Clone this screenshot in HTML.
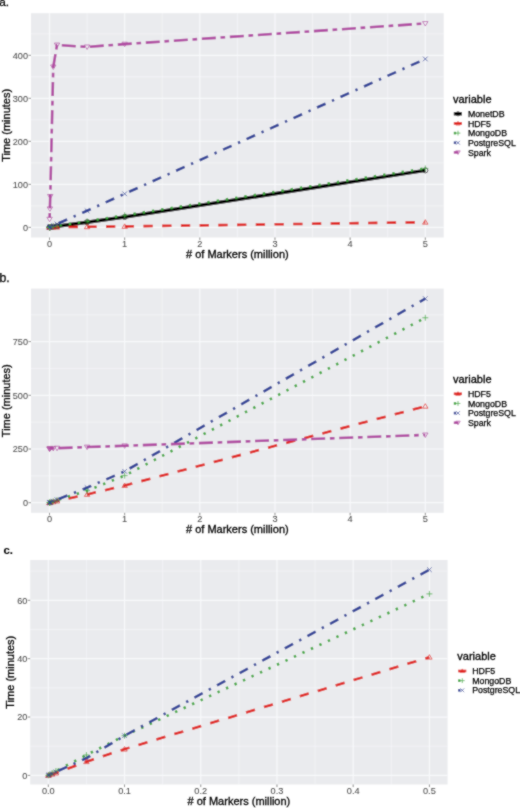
<!DOCTYPE html>
<html><head><meta charset="utf-8"><style>
html,body{margin:0;padding:0;background:#fff;}
body{width:520px;height:808px;overflow:hidden;}
svg{display:block;font-family:"Liberation Sans", sans-serif;}
#w{width:520px;height:808px;}
</style></head><body>
<div id="w"><svg width="520" height="808" viewBox="0 0 520 808">
<defs><filter id="bl" filterUnits="userSpaceOnUse" x="0" y="0" width="520" height="808"><feConvolveMatrix order="3" kernelMatrix="1 2 1 2 12 2 1 2 1" divisor="24" edgeMode="duplicate"/></filter></defs>
<g filter="url(#bl)">
<rect width="520" height="808" fill="#fff"/>
<clipPath id="ca"><rect x="31" y="13.2" width="412.7" height="224.3"/></clipPath>
<rect x="31" y="13.2" width="412.7" height="224.3" fill="#EAEBEE"/>
<line x1="87.08" y1="13.2" x2="87.08" y2="237.5" stroke="#F8F9FB" stroke-width="0.6"/>
<line x1="162.24" y1="13.2" x2="162.24" y2="237.5" stroke="#F8F9FB" stroke-width="0.6"/>
<line x1="237.4" y1="13.2" x2="237.4" y2="237.5" stroke="#F8F9FB" stroke-width="0.6"/>
<line x1="312.56" y1="13.2" x2="312.56" y2="237.5" stroke="#F8F9FB" stroke-width="0.6"/>
<line x1="387.72" y1="13.2" x2="387.72" y2="237.5" stroke="#F8F9FB" stroke-width="0.6"/>
<line x1="31" y1="205.84" x2="443.7" y2="205.84" stroke="#F8F9FB" stroke-width="0.6"/>
<line x1="31" y1="162.83" x2="443.7" y2="162.83" stroke="#F8F9FB" stroke-width="0.6"/>
<line x1="31" y1="119.82" x2="443.7" y2="119.82" stroke="#F8F9FB" stroke-width="0.6"/>
<line x1="31" y1="76.81" x2="443.7" y2="76.81" stroke="#F8F9FB" stroke-width="0.6"/>
<line x1="31" y1="33.79" x2="443.7" y2="33.79" stroke="#F8F9FB" stroke-width="0.6"/>
<line x1="49.5" y1="13.2" x2="49.5" y2="237.5" stroke="#F8F9FB" stroke-width="1.2"/>
<line x1="124.66" y1="13.2" x2="124.66" y2="237.5" stroke="#F8F9FB" stroke-width="1.2"/>
<line x1="199.82" y1="13.2" x2="199.82" y2="237.5" stroke="#F8F9FB" stroke-width="1.2"/>
<line x1="274.98" y1="13.2" x2="274.98" y2="237.5" stroke="#F8F9FB" stroke-width="1.2"/>
<line x1="350.14" y1="13.2" x2="350.14" y2="237.5" stroke="#F8F9FB" stroke-width="1.2"/>
<line x1="425.3" y1="13.2" x2="425.3" y2="237.5" stroke="#F8F9FB" stroke-width="1.2"/>
<line x1="31" y1="227.35" x2="443.7" y2="227.35" stroke="#F8F9FB" stroke-width="1.2"/>
<line x1="31" y1="184.34" x2="443.7" y2="184.34" stroke="#F8F9FB" stroke-width="1.2"/>
<line x1="31" y1="141.32" x2="443.7" y2="141.32" stroke="#F8F9FB" stroke-width="1.2"/>
<line x1="31" y1="98.31" x2="443.7" y2="98.31" stroke="#F8F9FB" stroke-width="1.2"/>
<line x1="31" y1="55.3" x2="443.7" y2="55.3" stroke="#F8F9FB" stroke-width="1.2"/>
<line x1="28.4" y1="227.35" x2="31" y2="227.35" stroke="#333333" stroke-width="0.6"/>
<line x1="28.4" y1="184.34" x2="31" y2="184.34" stroke="#333333" stroke-width="0.6"/>
<line x1="28.4" y1="141.32" x2="31" y2="141.32" stroke="#333333" stroke-width="0.6"/>
<line x1="28.4" y1="98.31" x2="31" y2="98.31" stroke="#333333" stroke-width="0.6"/>
<line x1="28.4" y1="55.3" x2="31" y2="55.3" stroke="#333333" stroke-width="0.6"/>
<line x1="49.5" y1="237.5" x2="49.5" y2="240.1" stroke="#333333" stroke-width="0.6"/>
<line x1="124.66" y1="237.5" x2="124.66" y2="240.1" stroke="#333333" stroke-width="0.6"/>
<line x1="199.82" y1="237.5" x2="199.82" y2="240.1" stroke="#333333" stroke-width="0.6"/>
<line x1="274.98" y1="237.5" x2="274.98" y2="240.1" stroke="#333333" stroke-width="0.6"/>
<line x1="350.14" y1="237.5" x2="350.14" y2="240.1" stroke="#333333" stroke-width="0.6"/>
<line x1="425.3" y1="237.5" x2="425.3" y2="240.1" stroke="#333333" stroke-width="0.6"/>
<g clip-path="url(#ca)">
<path d="M49.5 227.35 L49.58 227.31 L49.88 227.22 L50.25 227.18 L53.26 226.7 L57.02 226.15 L87.08 222.19 L124.66 217.03 L425.3 170.36" fill="none" stroke="#000000" stroke-width="3.5" stroke-linejoin="round"/>
<path d="M49.5 227.35 L49.58 227.35 L49.88 227.31 L50.25 227.31 L53.26 227.22 L57.02 227.18 L87.08 226.79 L124.66 226.4 L425.3 222.23" fill="none" stroke="#E0221E" stroke-width="2.6" stroke-dasharray="9.36,9.36" stroke-dashoffset="18.38" stroke-linejoin="round"/>
<path d="M49.5 227.35 L49.58 227.31 L49.88 227.22 L50.25 227.13 L53.26 226.58 L57.02 225.97 L87.08 221.24 L124.66 215.31 L425.3 168.42" fill="none" stroke="#38A536" stroke-width="2.6" stroke-dasharray="2.34,7.02" stroke-dashoffset="8.6" stroke-linejoin="round"/>
<path d="M49.5 227.35 L49.58 227.31 L49.88 227.13 L50.25 226.96 L53.26 225.63 L57.02 223.91 L87.08 210.79 L124.66 193.8 L425.3 58.96" fill="none" stroke="#2A3E96" stroke-width="2.6" stroke-dasharray="2.34,7.02,9.36,7.02" stroke-dashoffset="25.12" stroke-linejoin="round"/>
<path d="M49.58 219.18 L49.88 208.85 L50.25 196.38 L53.26 66.91 L57.02 44.98 L87.08 46.91 L124.66 44.12 L425.3 23.47" fill="none" stroke="#B04AA2" stroke-width="2.6" stroke-dasharray="4.68,4.68,14.04,4.68" stroke-dashoffset="26.61" stroke-linejoin="round"/>
<circle cx="49.5" cy="227.35" r="2.56" fill="none" stroke="#000000" stroke-width="0.7"/>
<circle cx="49.58" cy="227.31" r="2.56" fill="none" stroke="#000000" stroke-width="0.7"/>
<circle cx="49.88" cy="227.22" r="2.56" fill="none" stroke="#000000" stroke-width="0.7"/>
<circle cx="50.25" cy="227.18" r="2.56" fill="none" stroke="#000000" stroke-width="0.7"/>
<circle cx="53.26" cy="226.7" r="2.56" fill="none" stroke="#000000" stroke-width="0.7"/>
<circle cx="57.02" cy="226.15" r="2.56" fill="none" stroke="#000000" stroke-width="0.7"/>
<circle cx="87.08" cy="222.19" r="2.56" fill="none" stroke="#000000" stroke-width="0.7"/>
<circle cx="124.66" cy="217.03" r="2.56" fill="none" stroke="#000000" stroke-width="0.7"/>
<circle cx="425.3" cy="170.36" r="2.56" fill="none" stroke="#000000" stroke-width="0.7"/>
<polygon points="49.5,224.78 46.8,229.27 52.2,229.27" fill="none" stroke="#E0221E" stroke-width="0.7"/>
<polygon points="49.58,224.78 46.88,229.27 52.28,229.27" fill="none" stroke="#E0221E" stroke-width="0.7"/>
<polygon points="49.88,224.74 47.18,229.23 52.58,229.23" fill="none" stroke="#E0221E" stroke-width="0.7"/>
<polygon points="50.25,224.74 47.55,229.23 52.95,229.23" fill="none" stroke="#E0221E" stroke-width="0.7"/>
<polygon points="53.26,224.66 50.56,229.14 55.96,229.14" fill="none" stroke="#E0221E" stroke-width="0.7"/>
<polygon points="57.02,224.61 54.32,229.1 59.72,229.1" fill="none" stroke="#E0221E" stroke-width="0.7"/>
<polygon points="87.08,224.23 84.38,228.71 89.78,228.71" fill="none" stroke="#E0221E" stroke-width="0.7"/>
<polygon points="124.66,223.84 121.96,228.33 127.36,228.33" fill="none" stroke="#E0221E" stroke-width="0.7"/>
<polygon points="425.3,219.67 422.6,224.16 428,224.16" fill="none" stroke="#E0221E" stroke-width="0.7"/>
<path d="M46.53 227.35h5.94M49.5 224.38v5.94" stroke="#38A536" stroke-width="0.7" fill="none"/>
<path d="M46.61 227.31h5.94M49.58 224.34v5.94" stroke="#38A536" stroke-width="0.7" fill="none"/>
<path d="M46.91 227.22h5.94M49.88 224.25v5.94" stroke="#38A536" stroke-width="0.7" fill="none"/>
<path d="M47.28 227.13h5.94M50.25 224.16v5.94" stroke="#38A536" stroke-width="0.7" fill="none"/>
<path d="M50.29 226.58h5.94M53.26 223.61v5.94" stroke="#38A536" stroke-width="0.7" fill="none"/>
<path d="M54.05 225.97h5.94M57.02 223v5.94" stroke="#38A536" stroke-width="0.7" fill="none"/>
<path d="M84.11 221.24h5.94M87.08 218.27v5.94" stroke="#38A536" stroke-width="0.7" fill="none"/>
<path d="M121.69 215.31h5.94M124.66 212.34v5.94" stroke="#38A536" stroke-width="0.7" fill="none"/>
<path d="M422.33 168.42h5.94M425.3 165.45v5.94" stroke="#38A536" stroke-width="0.7" fill="none"/>
<path d="M47.2 225.06L51.8 229.64M47.2 229.64L51.8 225.06" stroke="#2A3E96" stroke-width="0.7" fill="none"/>
<path d="M47.28 225.01L51.87 229.6M47.28 229.6L51.87 225.01" stroke="#2A3E96" stroke-width="0.7" fill="none"/>
<path d="M47.58 224.84L52.17 229.43M47.58 229.43L52.17 224.84" stroke="#2A3E96" stroke-width="0.7" fill="none"/>
<path d="M47.96 224.67L52.55 229.26M47.96 229.26L52.55 224.67" stroke="#2A3E96" stroke-width="0.7" fill="none"/>
<path d="M50.96 223.33L55.55 227.92M50.96 227.92L55.55 223.33" stroke="#2A3E96" stroke-width="0.7" fill="none"/>
<path d="M54.72 221.61L59.31 226.2M54.72 226.2L59.31 221.61" stroke="#2A3E96" stroke-width="0.7" fill="none"/>
<path d="M84.78 208.5L89.38 213.09M84.78 213.09L89.38 208.5" stroke="#2A3E96" stroke-width="0.7" fill="none"/>
<path d="M122.36 191.51L126.95 196.1M122.36 196.1L126.95 191.51" stroke="#2A3E96" stroke-width="0.7" fill="none"/>
<path d="M423 56.66L427.6 61.25M423 61.25L427.6 56.66" stroke="#2A3E96" stroke-width="0.7" fill="none"/>
<polygon points="49.58,221.74 46.88,217.25 52.28,217.25" fill="none" stroke="#B04AA2" stroke-width="0.7"/>
<polygon points="49.88,211.42 47.18,206.93 52.58,206.93" fill="none" stroke="#B04AA2" stroke-width="0.7"/>
<polygon points="50.25,198.95 47.55,194.46 52.95,194.46" fill="none" stroke="#B04AA2" stroke-width="0.7"/>
<polygon points="53.26,69.48 50.56,64.99 55.96,64.99" fill="none" stroke="#B04AA2" stroke-width="0.7"/>
<polygon points="57.02,47.54 54.32,43.05 59.72,43.05" fill="none" stroke="#B04AA2" stroke-width="0.7"/>
<polygon points="87.08,49.48 84.38,44.99 89.78,44.99" fill="none" stroke="#B04AA2" stroke-width="0.7"/>
<polygon points="124.66,46.68 121.96,42.19 127.36,42.19" fill="none" stroke="#B04AA2" stroke-width="0.7"/>
<polygon points="425.3,26.04 422.6,21.55 428,21.55" fill="none" stroke="#B04AA2" stroke-width="0.7"/>
</g>
<line x1="453.8" y1="113.8" x2="462" y2="113.8" stroke="#000000" stroke-width="3.3"/>
<circle cx="458" cy="113.8" r="2.09" fill="none" stroke="#000000" stroke-width="0.7"/>
<line x1="453.8" y1="123.45" x2="462" y2="123.45" stroke="#E0221E" stroke-width="2.6" stroke-dasharray="9.36,9.36"/>
<polygon points="458,121.36 455.8,125.02 460.2,125.02" fill="none" stroke="#E0221E" stroke-width="0.7"/>
<line x1="453.8" y1="133.1" x2="462" y2="133.1" stroke="#38A536" stroke-width="2.6" stroke-dasharray="2.34,7.02"/>
<path d="M455.58 133.1h4.84M458 130.68v4.84" stroke="#38A536" stroke-width="0.7" fill="none"/>
<line x1="453.8" y1="142.75" x2="462" y2="142.75" stroke="#2A3E96" stroke-width="2.6" stroke-dasharray="2.34,7.02,9.36,7.02"/>
<path d="M456.13 140.88L459.87 144.62M456.13 144.62L459.87 140.88" stroke="#2A3E96" stroke-width="0.7" fill="none"/>
<line x1="453.8" y1="152.4" x2="462" y2="152.4" stroke="#B04AA2" stroke-width="2.6" stroke-dasharray="4.68,4.68,14.04,4.68"/>
<polygon points="458,154.49 455.8,150.83 460.2,150.83" fill="none" stroke="#B04AA2" stroke-width="0.7"/>
<clipPath id="cb"><rect x="31" y="288.6" width="412.7" height="224.2"/></clipPath>
<rect x="31" y="288.6" width="412.7" height="224.2" fill="#EAEBEE"/>
<line x1="87.08" y1="288.6" x2="87.08" y2="512.8" stroke="#F8F9FB" stroke-width="0.6"/>
<line x1="162.24" y1="288.6" x2="162.24" y2="512.8" stroke="#F8F9FB" stroke-width="0.6"/>
<line x1="237.4" y1="288.6" x2="237.4" y2="512.8" stroke="#F8F9FB" stroke-width="0.6"/>
<line x1="312.56" y1="288.6" x2="312.56" y2="512.8" stroke="#F8F9FB" stroke-width="0.6"/>
<line x1="387.72" y1="288.6" x2="387.72" y2="512.8" stroke="#F8F9FB" stroke-width="0.6"/>
<line x1="31" y1="475.85" x2="443.7" y2="475.85" stroke="#F8F9FB" stroke-width="0.6"/>
<line x1="31" y1="422.15" x2="443.7" y2="422.15" stroke="#F8F9FB" stroke-width="0.6"/>
<line x1="31" y1="368.45" x2="443.7" y2="368.45" stroke="#F8F9FB" stroke-width="0.6"/>
<line x1="31" y1="314.75" x2="443.7" y2="314.75" stroke="#F8F9FB" stroke-width="0.6"/>
<line x1="49.5" y1="288.6" x2="49.5" y2="512.8" stroke="#F8F9FB" stroke-width="1.2"/>
<line x1="124.66" y1="288.6" x2="124.66" y2="512.8" stroke="#F8F9FB" stroke-width="1.2"/>
<line x1="199.82" y1="288.6" x2="199.82" y2="512.8" stroke="#F8F9FB" stroke-width="1.2"/>
<line x1="274.98" y1="288.6" x2="274.98" y2="512.8" stroke="#F8F9FB" stroke-width="1.2"/>
<line x1="350.14" y1="288.6" x2="350.14" y2="512.8" stroke="#F8F9FB" stroke-width="1.2"/>
<line x1="425.3" y1="288.6" x2="425.3" y2="512.8" stroke="#F8F9FB" stroke-width="1.2"/>
<line x1="31" y1="502.7" x2="443.7" y2="502.7" stroke="#F8F9FB" stroke-width="1.2"/>
<line x1="31" y1="449" x2="443.7" y2="449" stroke="#F8F9FB" stroke-width="1.2"/>
<line x1="31" y1="395.3" x2="443.7" y2="395.3" stroke="#F8F9FB" stroke-width="1.2"/>
<line x1="31" y1="341.6" x2="443.7" y2="341.6" stroke="#F8F9FB" stroke-width="1.2"/>
<line x1="28.4" y1="502.7" x2="31" y2="502.7" stroke="#333333" stroke-width="0.6"/>
<line x1="28.4" y1="449" x2="31" y2="449" stroke="#333333" stroke-width="0.6"/>
<line x1="28.4" y1="395.3" x2="31" y2="395.3" stroke="#333333" stroke-width="0.6"/>
<line x1="28.4" y1="341.6" x2="31" y2="341.6" stroke="#333333" stroke-width="0.6"/>
<line x1="49.5" y1="512.8" x2="49.5" y2="515.4" stroke="#333333" stroke-width="0.6"/>
<line x1="124.66" y1="512.8" x2="124.66" y2="515.4" stroke="#333333" stroke-width="0.6"/>
<line x1="199.82" y1="512.8" x2="199.82" y2="515.4" stroke="#333333" stroke-width="0.6"/>
<line x1="274.98" y1="512.8" x2="274.98" y2="515.4" stroke="#333333" stroke-width="0.6"/>
<line x1="350.14" y1="512.8" x2="350.14" y2="515.4" stroke="#333333" stroke-width="0.6"/>
<line x1="425.3" y1="512.8" x2="425.3" y2="515.4" stroke="#333333" stroke-width="0.6"/>
<g clip-path="url(#cb)">
<path d="M49.5 502.7 L49.58 502.66 L49.88 502.57 L50.25 502.49 L53.26 501.84 L57.02 500.98 L87.08 494.43 L124.66 485.52 L425.3 406.25" fill="none" stroke="#E0221E" stroke-width="2.6" stroke-dasharray="9.36,9.36" stroke-dashoffset="17.99" stroke-linejoin="round"/>
<path d="M49.5 502.7 L49.58 502.66 L49.88 502.53 L50.25 502.38 L53.26 501.41 L57.02 500.12 L87.08 490.67 L124.66 475.64 L425.3 317.76" fill="none" stroke="#38A536" stroke-width="2.6" stroke-dasharray="2.34,7.02" stroke-dashoffset="8.77" stroke-linejoin="round"/>
<path d="M49.5 502.7 L49.58 502.66 L49.88 502.53 L50.25 502.38 L53.26 501.2 L57.02 499.69 L87.08 487.66 L124.66 471.34 L425.3 298.64" fill="none" stroke="#2A3E96" stroke-width="2.6" stroke-dasharray="2.34,7.02,9.36,7.02" stroke-dashoffset="25.17" stroke-linejoin="round"/>
<path d="M49.5 449 L49.58 448.79 L49.88 448.57 L50.25 448.36 L53.26 448.36 L57.02 448.14 L87.08 447.07 L124.66 445.78 L425.3 434.93" fill="none" stroke="#B04AA2" stroke-width="2.6" stroke-dasharray="4.68,4.68,14.04,4.68" stroke-dashoffset="28.06" stroke-linejoin="round"/>
<polygon points="49.5,500.13 46.8,504.62 52.2,504.62" fill="none" stroke="#E0221E" stroke-width="0.7"/>
<polygon points="49.58,500.09 46.88,504.58 52.28,504.58" fill="none" stroke="#E0221E" stroke-width="0.7"/>
<polygon points="49.88,500.01 47.18,504.49 52.58,504.49" fill="none" stroke="#E0221E" stroke-width="0.7"/>
<polygon points="50.25,499.92 47.55,504.41 52.95,504.41" fill="none" stroke="#E0221E" stroke-width="0.7"/>
<polygon points="53.26,499.28 50.56,503.76 55.96,503.76" fill="none" stroke="#E0221E" stroke-width="0.7"/>
<polygon points="57.02,498.42 54.32,502.91 59.72,502.91" fill="none" stroke="#E0221E" stroke-width="0.7"/>
<polygon points="87.08,491.87 84.38,496.35 89.78,496.35" fill="none" stroke="#E0221E" stroke-width="0.7"/>
<polygon points="124.66,482.95 121.96,487.44 127.36,487.44" fill="none" stroke="#E0221E" stroke-width="0.7"/>
<polygon points="425.3,403.69 422.6,408.18 428,408.18" fill="none" stroke="#E0221E" stroke-width="0.7"/>
<path d="M46.53 502.7h5.94M49.5 499.73v5.94" stroke="#38A536" stroke-width="0.7" fill="none"/>
<path d="M46.61 502.66h5.94M49.58 499.69v5.94" stroke="#38A536" stroke-width="0.7" fill="none"/>
<path d="M46.91 502.53h5.94M49.88 499.56v5.94" stroke="#38A536" stroke-width="0.7" fill="none"/>
<path d="M47.28 502.38h5.94M50.25 499.41v5.94" stroke="#38A536" stroke-width="0.7" fill="none"/>
<path d="M50.29 501.41h5.94M53.26 498.44v5.94" stroke="#38A536" stroke-width="0.7" fill="none"/>
<path d="M54.05 500.12h5.94M57.02 497.15v5.94" stroke="#38A536" stroke-width="0.7" fill="none"/>
<path d="M84.11 490.67h5.94M87.08 487.7v5.94" stroke="#38A536" stroke-width="0.7" fill="none"/>
<path d="M121.69 475.64h5.94M124.66 472.67v5.94" stroke="#38A536" stroke-width="0.7" fill="none"/>
<path d="M422.33 317.76h5.94M425.3 314.79v5.94" stroke="#38A536" stroke-width="0.7" fill="none"/>
<path d="M47.2 500.4L51.8 505M47.2 505L51.8 500.4" stroke="#2A3E96" stroke-width="0.7" fill="none"/>
<path d="M47.28 500.36L51.87 504.95M47.28 504.95L51.87 500.36" stroke="#2A3E96" stroke-width="0.7" fill="none"/>
<path d="M47.58 500.23L52.17 504.82M47.58 504.82L52.17 500.23" stroke="#2A3E96" stroke-width="0.7" fill="none"/>
<path d="M47.96 500.08L52.55 504.67M47.96 504.67L52.55 500.08" stroke="#2A3E96" stroke-width="0.7" fill="none"/>
<path d="M50.96 498.9L55.55 503.49M50.96 503.49L55.55 498.9" stroke="#2A3E96" stroke-width="0.7" fill="none"/>
<path d="M54.72 497.4L59.31 501.99M54.72 501.99L59.31 497.4" stroke="#2A3E96" stroke-width="0.7" fill="none"/>
<path d="M84.78 485.37L89.38 489.96M84.78 489.96L89.38 485.37" stroke="#2A3E96" stroke-width="0.7" fill="none"/>
<path d="M122.36 469.04L126.95 473.63M122.36 473.63L126.95 469.04" stroke="#2A3E96" stroke-width="0.7" fill="none"/>
<path d="M423 296.34L427.6 300.94M423 300.94L427.6 296.34" stroke="#2A3E96" stroke-width="0.7" fill="none"/>
<polygon points="49.5,451.56 46.8,447.08 52.2,447.08" fill="none" stroke="#B04AA2" stroke-width="0.7"/>
<polygon points="49.58,451.35 46.88,446.86 52.28,446.86" fill="none" stroke="#B04AA2" stroke-width="0.7"/>
<polygon points="49.88,451.14 47.18,446.65 52.58,446.65" fill="none" stroke="#B04AA2" stroke-width="0.7"/>
<polygon points="50.25,450.92 47.55,446.43 52.95,446.43" fill="none" stroke="#B04AA2" stroke-width="0.7"/>
<polygon points="53.26,450.92 50.56,446.43 55.96,446.43" fill="none" stroke="#B04AA2" stroke-width="0.7"/>
<polygon points="57.02,450.71 54.32,446.22 59.72,446.22" fill="none" stroke="#B04AA2" stroke-width="0.7"/>
<polygon points="87.08,449.63 84.38,445.14 89.78,445.14" fill="none" stroke="#B04AA2" stroke-width="0.7"/>
<polygon points="124.66,448.34 121.96,443.85 127.36,443.85" fill="none" stroke="#B04AA2" stroke-width="0.7"/>
<polygon points="425.3,437.5 422.6,433.01 428,433.01" fill="none" stroke="#B04AA2" stroke-width="0.7"/>
</g>
<line x1="453.8" y1="393.8" x2="462" y2="393.8" stroke="#E0221E" stroke-width="2.6" stroke-dasharray="9.36,9.36"/>
<polygon points="458,391.71 455.8,395.37 460.2,395.37" fill="none" stroke="#E0221E" stroke-width="0.7"/>
<line x1="453.8" y1="403.45" x2="462" y2="403.45" stroke="#38A536" stroke-width="2.6" stroke-dasharray="2.34,7.02"/>
<path d="M455.58 403.45h4.84M458 401.03v4.84" stroke="#38A536" stroke-width="0.7" fill="none"/>
<line x1="453.8" y1="413.1" x2="462" y2="413.1" stroke="#2A3E96" stroke-width="2.6" stroke-dasharray="2.34,7.02,9.36,7.02"/>
<path d="M456.13 411.23L459.87 414.97M456.13 414.97L459.87 411.23" stroke="#2A3E96" stroke-width="0.7" fill="none"/>
<line x1="453.8" y1="422.75" x2="462" y2="422.75" stroke="#B04AA2" stroke-width="2.6" stroke-dasharray="4.68,4.68,14.04,4.68"/>
<polygon points="458,424.84 455.8,421.18 460.2,421.18" fill="none" stroke="#B04AA2" stroke-width="0.7"/>
<clipPath id="cc"><rect x="30.2" y="560" width="417.4" height="224.5"/></clipPath>
<rect x="30.2" y="560" width="417.4" height="224.5" fill="#EAEBEE"/>
<line x1="86.41" y1="560" x2="86.41" y2="784.5" stroke="#F8F9FB" stroke-width="0.6"/>
<line x1="162.63" y1="560" x2="162.63" y2="784.5" stroke="#F8F9FB" stroke-width="0.6"/>
<line x1="238.85" y1="560" x2="238.85" y2="784.5" stroke="#F8F9FB" stroke-width="0.6"/>
<line x1="315.07" y1="560" x2="315.07" y2="784.5" stroke="#F8F9FB" stroke-width="0.6"/>
<line x1="391.29" y1="560" x2="391.29" y2="784.5" stroke="#F8F9FB" stroke-width="0.6"/>
<line x1="30.2" y1="746.22" x2="447.6" y2="746.22" stroke="#F8F9FB" stroke-width="0.6"/>
<line x1="30.2" y1="687.85" x2="447.6" y2="687.85" stroke="#F8F9FB" stroke-width="0.6"/>
<line x1="30.2" y1="629.48" x2="447.6" y2="629.48" stroke="#F8F9FB" stroke-width="0.6"/>
<line x1="30.2" y1="571.12" x2="447.6" y2="571.12" stroke="#F8F9FB" stroke-width="0.6"/>
<line x1="48.3" y1="560" x2="48.3" y2="784.5" stroke="#F8F9FB" stroke-width="1.2"/>
<line x1="124.52" y1="560" x2="124.52" y2="784.5" stroke="#F8F9FB" stroke-width="1.2"/>
<line x1="200.74" y1="560" x2="200.74" y2="784.5" stroke="#F8F9FB" stroke-width="1.2"/>
<line x1="276.96" y1="560" x2="276.96" y2="784.5" stroke="#F8F9FB" stroke-width="1.2"/>
<line x1="353.18" y1="560" x2="353.18" y2="784.5" stroke="#F8F9FB" stroke-width="1.2"/>
<line x1="429.4" y1="560" x2="429.4" y2="784.5" stroke="#F8F9FB" stroke-width="1.2"/>
<line x1="30.2" y1="775.4" x2="447.6" y2="775.4" stroke="#F8F9FB" stroke-width="1.2"/>
<line x1="30.2" y1="717.03" x2="447.6" y2="717.03" stroke="#F8F9FB" stroke-width="1.2"/>
<line x1="30.2" y1="658.67" x2="447.6" y2="658.67" stroke="#F8F9FB" stroke-width="1.2"/>
<line x1="30.2" y1="600.3" x2="447.6" y2="600.3" stroke="#F8F9FB" stroke-width="1.2"/>
<line x1="27.6" y1="775.4" x2="30.2" y2="775.4" stroke="#333333" stroke-width="0.6"/>
<line x1="27.6" y1="717.03" x2="30.2" y2="717.03" stroke="#333333" stroke-width="0.6"/>
<line x1="27.6" y1="658.67" x2="30.2" y2="658.67" stroke="#333333" stroke-width="0.6"/>
<line x1="27.6" y1="600.3" x2="30.2" y2="600.3" stroke="#333333" stroke-width="0.6"/>
<line x1="48.3" y1="784.5" x2="48.3" y2="787.1" stroke="#333333" stroke-width="0.6"/>
<line x1="124.52" y1="784.5" x2="124.52" y2="787.1" stroke="#333333" stroke-width="0.6"/>
<line x1="200.74" y1="784.5" x2="200.74" y2="787.1" stroke="#333333" stroke-width="0.6"/>
<line x1="276.96" y1="784.5" x2="276.96" y2="787.1" stroke="#333333" stroke-width="0.6"/>
<line x1="353.18" y1="784.5" x2="353.18" y2="787.1" stroke="#333333" stroke-width="0.6"/>
<line x1="429.4" y1="784.5" x2="429.4" y2="787.1" stroke="#333333" stroke-width="0.6"/>
<g clip-path="url(#cc)">
<path d="M48.3 775.4 L49.06 775.11 L52.11 774.23 L55.92 773.07 L86.41 761.68 L124.52 749.13 L429.4 657.21" fill="none" stroke="#E0221E" stroke-width="2.6" stroke-dasharray="9.36,9.36" stroke-dashoffset="17.1" stroke-linejoin="round"/>
<path d="M48.3 775.4 L49.06 774.82 L52.11 773.07 L55.92 771.02 L86.41 754.97 L124.52 735.71 L429.4 593.88" fill="none" stroke="#38A536" stroke-width="2.6" stroke-dasharray="2.34,7.02" stroke-dashoffset="7.98" stroke-linejoin="round"/>
<path d="M48.3 775.4 L49.06 774.82 L52.11 773.65 L55.92 771.9 L86.41 758.18 L124.52 735.71 L429.4 569.66" fill="none" stroke="#2A3E96" stroke-width="2.6" stroke-dasharray="2.34,7.02,9.36,7.02" stroke-dashoffset="23.87" stroke-linejoin="round"/>
<polygon points="48.3,772.83 45.6,777.32 51,777.32" fill="none" stroke="#E0221E" stroke-width="0.7"/>
<polygon points="49.06,772.54 46.36,777.03 51.76,777.03" fill="none" stroke="#E0221E" stroke-width="0.7"/>
<polygon points="52.11,771.67 49.41,776.16 54.81,776.16" fill="none" stroke="#E0221E" stroke-width="0.7"/>
<polygon points="55.92,770.5 53.22,774.99 58.62,774.99" fill="none" stroke="#E0221E" stroke-width="0.7"/>
<polygon points="86.41,759.12 83.71,763.61 89.11,763.61" fill="none" stroke="#E0221E" stroke-width="0.7"/>
<polygon points="124.52,746.57 121.82,751.06 127.22,751.06" fill="none" stroke="#E0221E" stroke-width="0.7"/>
<polygon points="429.4,654.64 426.7,659.13 432.1,659.13" fill="none" stroke="#E0221E" stroke-width="0.7"/>
<path d="M45.33 775.4h5.94M48.3 772.43v5.94" stroke="#38A536" stroke-width="0.7" fill="none"/>
<path d="M46.09 774.82h5.94M49.06 771.85v5.94" stroke="#38A536" stroke-width="0.7" fill="none"/>
<path d="M49.14 773.07h5.94M52.11 770.1v5.94" stroke="#38A536" stroke-width="0.7" fill="none"/>
<path d="M52.95 771.02h5.94M55.92 768.05v5.94" stroke="#38A536" stroke-width="0.7" fill="none"/>
<path d="M83.44 754.97h5.94M86.41 752v5.94" stroke="#38A536" stroke-width="0.7" fill="none"/>
<path d="M121.55 735.71h5.94M124.52 732.74v5.94" stroke="#38A536" stroke-width="0.7" fill="none"/>
<path d="M426.43 593.88h5.94M429.4 590.91v5.94" stroke="#38A536" stroke-width="0.7" fill="none"/>
<path d="M46 773.11L50.59 777.69M46 777.69L50.59 773.11" stroke="#2A3E96" stroke-width="0.7" fill="none"/>
<path d="M46.77 772.52L51.36 777.11M46.77 777.11L51.36 772.52" stroke="#2A3E96" stroke-width="0.7" fill="none"/>
<path d="M49.82 771.35L54.41 775.94M49.82 775.94L54.41 771.35" stroke="#2A3E96" stroke-width="0.7" fill="none"/>
<path d="M53.63 769.6L58.22 774.19M53.63 774.19L58.22 769.6" stroke="#2A3E96" stroke-width="0.7" fill="none"/>
<path d="M84.11 755.89L88.7 760.48M84.11 760.48L88.7 755.89" stroke="#2A3E96" stroke-width="0.7" fill="none"/>
<path d="M122.22 733.42L126.81 738.01M122.22 738.01L126.81 733.42" stroke="#2A3E96" stroke-width="0.7" fill="none"/>
<path d="M427.1 567.36L431.69 571.95M427.1 571.95L431.69 567.36" stroke="#2A3E96" stroke-width="0.7" fill="none"/>
</g>
<line x1="458.1" y1="671" x2="466.3" y2="671" stroke="#E0221E" stroke-width="2.6" stroke-dasharray="9.36,9.36"/>
<polygon points="462.3,668.91 460.1,672.57 464.5,672.57" fill="none" stroke="#E0221E" stroke-width="0.7"/>
<line x1="458.1" y1="680.65" x2="466.3" y2="680.65" stroke="#38A536" stroke-width="2.6" stroke-dasharray="2.34,7.02"/>
<path d="M459.88 680.65h4.84M462.3 678.23v4.84" stroke="#38A536" stroke-width="0.7" fill="none"/>
<line x1="458.1" y1="690.3" x2="466.3" y2="690.3" stroke="#2A3E96" stroke-width="2.6" stroke-dasharray="2.34,7.02,9.36,7.02"/>
<path d="M460.43 688.43L464.17 692.17M460.43 692.17L464.17 688.43" stroke="#2A3E96" stroke-width="0.7" fill="none"/>
</g>
<g filter="url(#bl)"><text x="28" y="230.6" font-size="9.1" fill="#4D4D4D" text-anchor="end" font-weight="normal" stroke="#4D4D4D" stroke-width="0.08">0</text>
<text x="28" y="187.59" font-size="9.1" fill="#4D4D4D" text-anchor="end" font-weight="normal" stroke="#4D4D4D" stroke-width="0.08">100</text>
<text x="28" y="144.57" font-size="9.1" fill="#4D4D4D" text-anchor="end" font-weight="normal" stroke="#4D4D4D" stroke-width="0.08">200</text>
<text x="28" y="101.56" font-size="9.1" fill="#4D4D4D" text-anchor="end" font-weight="normal" stroke="#4D4D4D" stroke-width="0.08">300</text>
<text x="28" y="58.55" font-size="9.1" fill="#4D4D4D" text-anchor="end" font-weight="normal" stroke="#4D4D4D" stroke-width="0.08">400</text>
<text x="49.5" y="247.1" font-size="9.2" fill="#4D4D4D" text-anchor="middle" font-weight="normal" stroke="#4D4D4D" stroke-width="0.08">0</text>
<text x="124.66" y="247.1" font-size="9.2" fill="#4D4D4D" text-anchor="middle" font-weight="normal" stroke="#4D4D4D" stroke-width="0.08">1</text>
<text x="199.82" y="247.1" font-size="9.2" fill="#4D4D4D" text-anchor="middle" font-weight="normal" stroke="#4D4D4D" stroke-width="0.08">2</text>
<text x="274.98" y="247.1" font-size="9.2" fill="#4D4D4D" text-anchor="middle" font-weight="normal" stroke="#4D4D4D" stroke-width="0.08">3</text>
<text x="350.14" y="247.1" font-size="9.2" fill="#4D4D4D" text-anchor="middle" font-weight="normal" stroke="#4D4D4D" stroke-width="0.08">4</text>
<text x="425.3" y="247.1" font-size="9.2" fill="#4D4D4D" text-anchor="middle" font-weight="normal" stroke="#4D4D4D" stroke-width="0.08">5</text>
<text x="237.35" y="257.7" font-size="11" fill="#000" text-anchor="middle" font-weight="normal" stroke="#000" stroke-width="0.3"># of Markers (million)</text>
<text x="10" y="125.35" font-size="11" fill="#000" text-anchor="middle" font-weight="normal" transform="rotate(-90 10 125.35)" stroke="#000" stroke-width="0.3">Time (minutes)</text>
<text x="453" y="103" font-size="11" fill="#000" text-anchor="start" font-weight="normal" stroke="#000" stroke-width="0.3">variable</text>
<text x="467.9" y="116.9" font-size="8.8" fill="#000" text-anchor="start" font-weight="normal" stroke="#000" stroke-width="0.25">MonetDB</text>
<text x="467.9" y="126.55" font-size="8.8" fill="#000" text-anchor="start" font-weight="normal" stroke="#000" stroke-width="0.25">HDF5</text>
<text x="467.9" y="136.2" font-size="8.8" fill="#000" text-anchor="start" font-weight="normal" stroke="#000" stroke-width="0.25">MongoDB</text>
<text x="467.9" y="145.85" font-size="8.8" fill="#000" text-anchor="start" font-weight="normal" stroke="#000" stroke-width="0.25">PostgreSQL</text>
<text x="467.9" y="155.5" font-size="8.8" fill="#000" text-anchor="start" font-weight="normal" stroke="#000" stroke-width="0.25">Spark</text>
<text x="28" y="505.95" font-size="9.1" fill="#4D4D4D" text-anchor="end" font-weight="normal" stroke="#4D4D4D" stroke-width="0.08">0</text>
<text x="28" y="452.25" font-size="9.1" fill="#4D4D4D" text-anchor="end" font-weight="normal" stroke="#4D4D4D" stroke-width="0.08">250</text>
<text x="28" y="398.55" font-size="9.1" fill="#4D4D4D" text-anchor="end" font-weight="normal" stroke="#4D4D4D" stroke-width="0.08">500</text>
<text x="28" y="344.85" font-size="9.1" fill="#4D4D4D" text-anchor="end" font-weight="normal" stroke="#4D4D4D" stroke-width="0.08">750</text>
<text x="49.5" y="522.4" font-size="9.2" fill="#4D4D4D" text-anchor="middle" font-weight="normal" stroke="#4D4D4D" stroke-width="0.08">0</text>
<text x="124.66" y="522.4" font-size="9.2" fill="#4D4D4D" text-anchor="middle" font-weight="normal" stroke="#4D4D4D" stroke-width="0.08">1</text>
<text x="199.82" y="522.4" font-size="9.2" fill="#4D4D4D" text-anchor="middle" font-weight="normal" stroke="#4D4D4D" stroke-width="0.08">2</text>
<text x="274.98" y="522.4" font-size="9.2" fill="#4D4D4D" text-anchor="middle" font-weight="normal" stroke="#4D4D4D" stroke-width="0.08">3</text>
<text x="350.14" y="522.4" font-size="9.2" fill="#4D4D4D" text-anchor="middle" font-weight="normal" stroke="#4D4D4D" stroke-width="0.08">4</text>
<text x="425.3" y="522.4" font-size="9.2" fill="#4D4D4D" text-anchor="middle" font-weight="normal" stroke="#4D4D4D" stroke-width="0.08">5</text>
<text x="237.35" y="533" font-size="11" fill="#000" text-anchor="middle" font-weight="normal" stroke="#000" stroke-width="0.3"># of Markers (million)</text>
<text x="10" y="400.7" font-size="11" fill="#000" text-anchor="middle" font-weight="normal" transform="rotate(-90 10 400.7)" stroke="#000" stroke-width="0.3">Time (minutes)</text>
<text x="453" y="383" font-size="11" fill="#000" text-anchor="start" font-weight="normal" stroke="#000" stroke-width="0.3">variable</text>
<text x="467.9" y="396.9" font-size="8.8" fill="#000" text-anchor="start" font-weight="normal" stroke="#000" stroke-width="0.25">HDF5</text>
<text x="467.9" y="406.55" font-size="8.8" fill="#000" text-anchor="start" font-weight="normal" stroke="#000" stroke-width="0.25">MongoDB</text>
<text x="467.9" y="416.2" font-size="8.8" fill="#000" text-anchor="start" font-weight="normal" stroke="#000" stroke-width="0.25">PostgreSQL</text>
<text x="467.9" y="425.85" font-size="8.8" fill="#000" text-anchor="start" font-weight="normal" stroke="#000" stroke-width="0.25">Spark</text>
<text x="27.3" y="778.65" font-size="9.1" fill="#4D4D4D" text-anchor="end" font-weight="normal" stroke="#4D4D4D" stroke-width="0.08">0</text>
<text x="27.3" y="720.28" font-size="9.1" fill="#4D4D4D" text-anchor="end" font-weight="normal" stroke="#4D4D4D" stroke-width="0.08">20</text>
<text x="27.3" y="661.92" font-size="9.1" fill="#4D4D4D" text-anchor="end" font-weight="normal" stroke="#4D4D4D" stroke-width="0.08">40</text>
<text x="27.3" y="603.55" font-size="9.1" fill="#4D4D4D" text-anchor="end" font-weight="normal" stroke="#4D4D4D" stroke-width="0.08">60</text>
<text x="48.3" y="794.1" font-size="9.2" fill="#4D4D4D" text-anchor="middle" font-weight="normal" stroke="#4D4D4D" stroke-width="0.08">0.0</text>
<text x="124.52" y="794.1" font-size="9.2" fill="#4D4D4D" text-anchor="middle" font-weight="normal" stroke="#4D4D4D" stroke-width="0.08">0.1</text>
<text x="200.74" y="794.1" font-size="9.2" fill="#4D4D4D" text-anchor="middle" font-weight="normal" stroke="#4D4D4D" stroke-width="0.08">0.2</text>
<text x="276.96" y="794.1" font-size="9.2" fill="#4D4D4D" text-anchor="middle" font-weight="normal" stroke="#4D4D4D" stroke-width="0.08">0.3</text>
<text x="353.18" y="794.1" font-size="9.2" fill="#4D4D4D" text-anchor="middle" font-weight="normal" stroke="#4D4D4D" stroke-width="0.08">0.4</text>
<text x="429.4" y="794.1" font-size="9.2" fill="#4D4D4D" text-anchor="middle" font-weight="normal" stroke="#4D4D4D" stroke-width="0.08">0.5</text>
<text x="238.9" y="804.7" font-size="11" fill="#000" text-anchor="middle" font-weight="normal" stroke="#000" stroke-width="0.3"># of Markers (million)</text>
<text x="13.9" y="672.25" font-size="11" fill="#000" text-anchor="middle" font-weight="normal" transform="rotate(-90 13.9 672.25)" stroke="#000" stroke-width="0.3">Time (minutes)</text>
<text x="457.3" y="660.2" font-size="11" fill="#000" text-anchor="start" font-weight="normal" stroke="#000" stroke-width="0.3">variable</text>
<text x="472.2" y="674.1" font-size="8.8" fill="#000" text-anchor="start" font-weight="normal" stroke="#000" stroke-width="0.25">HDF5</text>
<text x="472.2" y="683.75" font-size="8.8" fill="#000" text-anchor="start" font-weight="normal" stroke="#000" stroke-width="0.25">MongoDB</text>
<text x="472.2" y="693.4" font-size="8.8" fill="#000" text-anchor="start" font-weight="normal" stroke="#000" stroke-width="0.25">PostgreSQL</text>
<text x="-0.7" y="6.2" font-size="11.8" fill="#000" text-anchor="start" font-weight="normal" stroke="#000" stroke-width="0.25">a.</text>
<text x="-0.6" y="281.7" font-size="12.2" fill="#000" text-anchor="start" font-weight="normal" stroke="#000" stroke-width="0.25">b.</text>
<text x="3.5" y="553.9" font-size="11.4" fill="#000" text-anchor="start" font-weight="bold" stroke="#000" stroke-width="0.1">c.</text></g>
</svg></div>
</body></html>
